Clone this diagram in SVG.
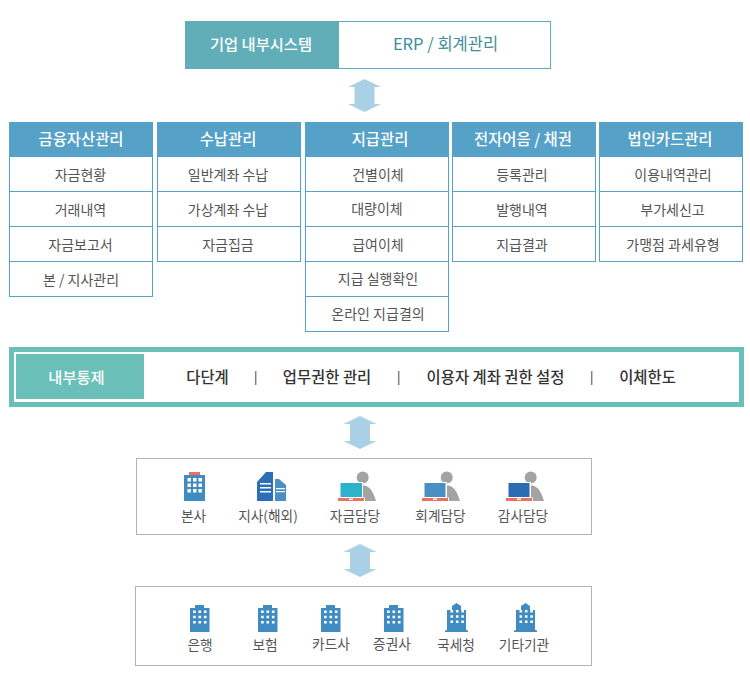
<svg xmlns="http://www.w3.org/2000/svg" width="750" height="684" viewBox="0 0 750 684">
<style>
text{font-family:"Noto Sans CJK KR","Noto Sans",sans-serif;text-anchor:middle}
.hd{fill:#55a1c7}
.hdt{fill:#fff;font-size:15.4px;font-weight:500}
.rowb{fill:#fff;stroke:#55a1c7;stroke-width:1}
.rowt{fill:#555;font-size:14px}
.ctl{fill:#333;font-size:15.4px;font-weight:500}
.sep{stroke:#808080;stroke-width:1.5}
.ico{fill:#555;font-size:13.7px}
.box{fill:#fff;stroke:#b2b2b2;stroke-width:1}
.bld{fill:#3f8bc2}
.win{fill:#fff}
.pg{fill:#a3a3a3}
.base{fill:#ee6f5c}
</style>
<defs>
<path id="arrow" fill="#a9d0e5" d="M0 0 16.500 8H10V25H16.500L0 33-16.500 25H-10V8H-16.500Z"/>
<g id="win3"><path class="win" d="M0 0h2.600v2.600h-2.600zM5.400 0h2.600v2.600h-2.600zM10.800 0h2.600v2.600h-2.600zM0 5.200h2.600v2.600h-2.600zM5.400 5.200h2.600v2.600h-2.600zM10.800 5.200h2.600v2.600h-2.600zM0 10.400h2.600v2.600h-2.600zM5.400 10.400h2.600v2.600h-2.600zM10.800 10.400h2.600v2.600h-2.600z"/></g>
<g id="bank"><path class="bld" d="M0 4H5V1H14V4H19.500V28H0Z"/><use href="#win3" x="3.100" y="6.500"/></g>
<g id="gov"><path class="bld" d="M2 7 7 7V3L11.500 0 16 3V7H21V27L23 27.500V29H0V27.500L2 27Z"/><use href="#win3" x="5.500" y="7"/></g>
<g id="person"><circle class="pg" cx="22.700" cy="5.500" r="6"/><path class="pg" d="M22 13.500C29 12.500 33 19 36 29H22Z"/><rect x="-1" y="10" width="24" height="16" fill="#fff"/><rect x="-2" y="25.500" width="27" height="3.500" fill="#fff"/><rect class="base" x="-2" y="26" width="26" height="3"/><rect x="9" y="26.500" width="4" height="1.500" fill="#fff"/></g>
</defs>

<g id="connectors">
<use href="#arrow" x="364.500" y="79"/>
<use href="#arrow" x="360" y="416"/>
<use href="#arrow" x="360" y="544"/>
</g>

<g id="top-system">
<rect x="185.500" y="21.500" width="365" height="47" fill="#fff" stroke="#62aeb8"/>
<rect x="185" y="21" width="154" height="48" fill="#62aeb8"/>
<text x="261" y="50" fill="#fff" font-size="15.300" font-weight="500">기업 내부시스템</text>
<text x="445.500" y="50" fill="#3f8e9c" font-size="16.500">ERP / 회계관리</text>
</g>

<g id="col-1">
<rect class="hd" x="9" y="122" width="144" height="35"/>
<text class="hdt" x="81" y="145">금융자산관리</text>
<rect class="rowb" x="9.500" y="156.500" width="143" height="35"/><text class="rowt" x="80.500" y="180">자금현황</text>
<rect class="rowb" x="9.500" y="191.500" width="143" height="35"/><text class="rowt" x="80.500" y="215">거래내역</text>
<rect class="rowb" x="9.500" y="226.500" width="143" height="35"/><text class="rowt" x="80.500" y="250">자금보고서</text>
<rect class="rowb" x="9.500" y="261.500" width="143" height="35"/><text class="rowt" x="81" y="285">본 / 지사관리</text>
</g>
<g id="col-2">
<rect class="hd" x="157" y="122" width="144" height="35"/>
<text class="hdt" x="228" y="145">수납관리</text>
<rect class="rowb" x="157.500" y="156.500" width="143" height="35"/><text class="rowt" x="228" y="180">일반계좌 수납</text>
<rect class="rowb" x="157.500" y="191.500" width="143" height="35"/><text class="rowt" x="228" y="215">가상계좌 수납</text>
<rect class="rowb" x="157.500" y="226.500" width="143" height="35"/><text class="rowt" x="228" y="250">자금집금</text>
</g>
<g id="col-3">
<rect class="hd" x="305" y="122" width="144" height="35"/>
<text class="hdt" x="380" y="145">지급관리</text>
<rect class="rowb" x="305.500" y="156.500" width="143" height="35"/><text class="rowt" x="378" y="180">건별이체</text>
<rect class="rowb" x="305.500" y="191.500" width="143" height="35"/><text class="rowt" x="377" y="214">대량이체</text>
<rect class="rowb" x="305.500" y="226.500" width="143" height="35"/><text class="rowt" x="378" y="250">급여이체</text>
<rect class="rowb" x="305.500" y="261.500" width="143" height="35"/><text class="rowt" x="378" y="284">지급 실행확인</text>
<rect class="rowb" x="305.500" y="296.500" width="143" height="35"/><text class="rowt" x="378" y="319">온라인 지급결의</text>
</g>
<g id="col-4">
<rect class="hd" x="452" y="122" width="144" height="35"/>
<text class="hdt" x="523" y="145">전자어음 / 채권</text>
<rect class="rowb" x="452.500" y="156.500" width="143" height="35"/><text class="rowt" x="522" y="180">등록관리</text>
<rect class="rowb" x="452.500" y="191.500" width="143" height="35"/><text class="rowt" x="522" y="215">발행내역</text>
<rect class="rowb" x="452.500" y="226.500" width="143" height="35"/><text class="rowt" x="522" y="250">지급결과</text>
</g>
<g id="col-5">
<rect class="hd" x="599" y="122" width="144" height="35"/>
<text class="hdt" x="670" y="145">법인카드관리</text>
<rect class="rowb" x="599.500" y="156.500" width="143" height="35"/><text class="rowt" x="673" y="180">이용내역관리</text>
<rect class="rowb" x="599.500" y="191.500" width="143" height="35"/><text class="rowt" x="672.500" y="215">부가세신고</text>
<rect class="rowb" x="599.500" y="226.500" width="143" height="35"/><text class="rowt" x="673" y="250">가맹점 과세유형</text>
</g>

<g id="internal-control">
<rect x="11.500" y="349.500" width="730" height="55" fill="#fff" stroke="#6bbfb9" stroke-width="5"/>
<rect x="16" y="354" width="128" height="45" fill="#6bbfb9"/>
<text x="76.500" y="383" fill="#fff" font-size="15.300" font-weight="500">내부통제</text>
<text class="ctl" x="207.500" y="383">다단계</text>
<line class="sep" x1="255.700" y1="371" x2="255.700" y2="385"/>
<text class="ctl" x="327" y="383">업무권한 관리</text>
<line class="sep" x1="398.700" y1="371" x2="398.700" y2="385"/>
<text class="ctl" x="495.500" y="383">이용자 계좌 권한 설정</text>
<line class="sep" x1="591.700" y1="371" x2="591.700" y2="385"/>
<text class="ctl" x="647.500" y="383">이체한도</text>
</g>

<g id="users-box">
<rect class="box" x="136.500" y="458.500" width="455" height="76"/>
<g id="hq">
<rect class="base" x="189" y="472" width="11" height="3"/>
<rect class="bld" x="184" y="475" width="21" height="26"/>
<path class="win" d="M187.500 478h3.500v3.500h-3.500zM193 478h3.500v3.500h-3.500zM198.500 478h3.500v3.500h-3.500zM187.500 483.500h3.500v3.500h-3.500zM193 483.500h3.500v3.500h-3.500zM198.500 483.500h3.500v3.500h-3.500zM187.500 489h3.500v3.500h-3.500zM193 489h3.500v3.500h-3.500zM198.500 489h3.500v3.500h-3.500z"/>
<text class="ico" x="193.500" y="521">본사</text>
</g>
<g id="branch">
<path fill="#2a6fb8" d="M257 482 266 472H273V501H257Z"/>
<path fill="#4a8fc4" d="M275 479H279L286 485V501H275Z"/>
<path fill="#fff" d="M260 483h11v1.500h-11zM260 487h11v1.500h-11zM260 491h11v1.500h-11zM276 488h9v1.300h-9zM276 491h9v1.300h-9z"/>
<text class="ico" x="268" y="521">지사(해외)</text>
</g>
<g id="staff-fund">
<use href="#person" x="340" y="472"/>
<rect x="340.500" y="483" width="21.500" height="14" fill="#2bb3cc"/>
<text class="ico" x="355" y="521">자금담당</text>
</g>
<g id="staff-acct">
<use href="#person" x="424" y="472"/>
<rect x="424.500" y="483" width="21" height="14" fill="#4a8fc4"/>
<text class="ico" x="440.500" y="521">회계담당</text>
</g>
<g id="staff-audit">
<use href="#person" x="508" y="472"/>
<rect x="508.500" y="483" width="21" height="14" fill="#2a6bb3"/>
<text class="ico" x="523" y="521">감사담당</text>
</g>
</g>

<g id="institutions-box">
<rect class="box" x="135.500" y="586.500" width="456" height="79"/>
<g id="bank-1"><use href="#bank" x="190" y="604"/><text class="ico" x="200" y="650">은행</text></g>
<g id="insurance"><use href="#bank" x="258" y="604"/><text class="ico" x="265" y="650">보험</text></g>
<g id="card"><use href="#bank" x="321" y="604"/><text class="ico" x="331" y="649">카드사</text></g>
<g id="securities"><use href="#bank" x="384" y="604"/><text class="ico" x="392" y="649">증권사</text></g>
<g id="tax"><use href="#gov" x="445" y="603"/><text class="ico" x="456" y="650">국세청</text></g>
<g id="other"><use href="#gov" x="514" y="603"/><text class="ico" x="524" y="650">기타기관</text></g>
</g>
</svg>
